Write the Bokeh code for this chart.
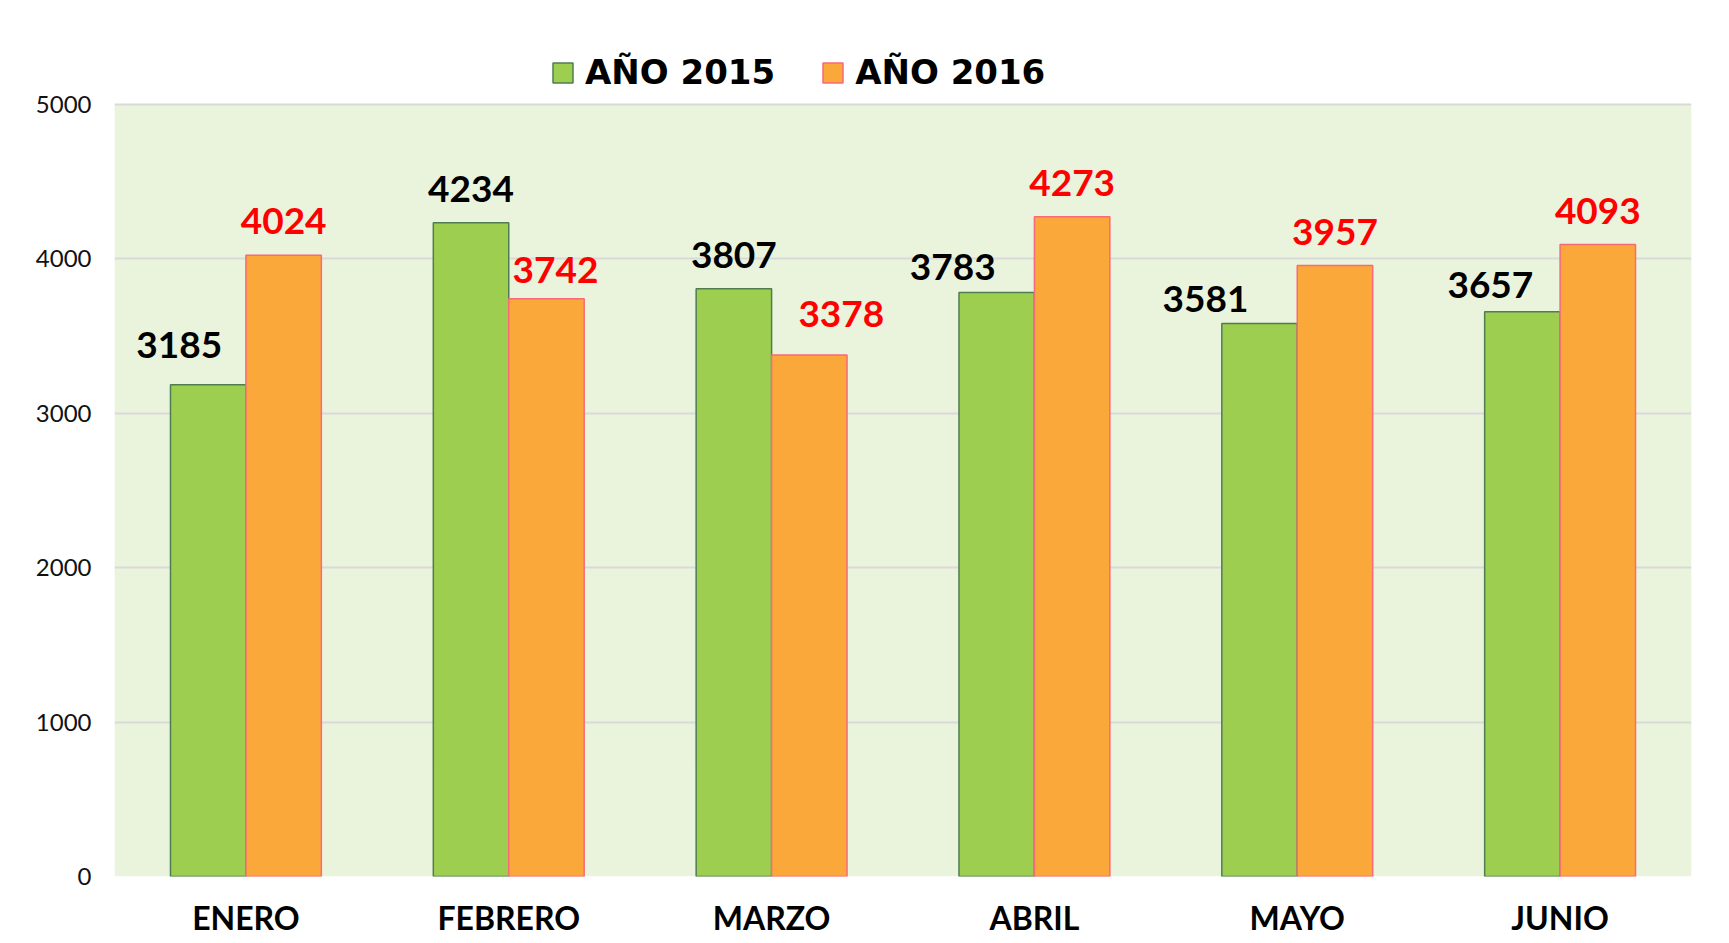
from bokeh.plotting import figure
from bokeh.models import (ColumnDataSource, FactorRange, Range1d, Legend, LegendItem,
                          FixedTicker, BoxAnnotation)
from bokeh.transform import dodge
from bokeh.core.properties import value
from bokeh.embed import file_html
from bokeh.resources import INLINE

months = ["ENERO", "FEBRERO", "MARZO", "ABRIL", "MAYO", "JUNIO"]
y2015 = [3185, 4234, 3807, 3783, 3581, 3657]
y2016 = [4024, 3742, 3378, 4273, 3957, 4093]
series = ["AÑO 2015", "AÑO 2016"]
y_ticks = [0, 1000, 2000, 3000, 4000, 5000]
Y_MAX = 5000

# label nudges in screen px (labels moved beside a taller neighbour bar)
dx15 = [-29, 0, 0, -44, -54, -32]
dy15 = [6, 0, 0, -9, -9, -7]
dx16 = [0, 9, 32, 0, 0, 0]
dy16 = [0, -5, 7, 0, 0, 0]
GAP = 34

GREEN, GREEN_LINE = "#9DCE50", "#4F7D52"
ORANGE, ORANGE_LINE = "#FBA83B", "#F8697A"
BG = "#EAF3DC"

# layout: plotting area 772px high for 0..5000, plus a white band above for the legend
AREA_H = 772
TOP_BAND = 64
FRAME_H = AREA_H + TOP_BAND

src = ColumnDataSource(dict(
    month=months, y2015=y2015, y2016=y2016,
    t15=[str(v) for v in y2015], t16=[str(v) for v in y2016],
    xo15=dx15, yo15=[-(GAP + d) for d in dy15],
    xo16=dx16, yo16=[-(GAP + d) for d in dy16],
))

p = figure(x_range=FactorRange(*months),
           y_range=Range1d(0, Y_MAX * FRAME_H / AREA_H),
           frame_width=1577, frame_height=FRAME_H,
           min_border_left=114, min_border_right=38, min_border_top=104 - TOP_BAND,
           min_border_bottom=62,
           output_backend="svg", toolbar_location=None)

p.background_fill_color = "white"
p.border_fill_color = "white"
p.outline_line_color = None
p.add_layout(BoxAnnotation(bottom=0, top=Y_MAX, fill_color=BG, fill_alpha=1,
                           line_color=None, level="image"))

W = 0.287
OFF = W / 2
r1 = p.vbar(x=dodge("month", -OFF, range=p.x_range), top="y2015", width=W, source=src,
            fill_color=GREEN, line_color=GREEN_LINE, line_width=1.5)
r2 = p.vbar(x=dodge("month", OFF, range=p.x_range), top="y2016", width=W, source=src,
            fill_color=ORANGE, line_color=ORANGE_LINE, line_width=1.5)

p.text(x=dodge("month", -OFF, range=p.x_range), y="y2015", text="t15",
       x_offset="xo15", y_offset="yo15", text_align="center", text_baseline="alphabetic",
       text_font=value("Lato"), text_font_style="bold", text_font_size="37px",
       text_color="black", source=src)
p.text(x=dodge("month", OFF, range=p.x_range), y="y2016", text="t16",
       x_offset="xo16", y_offset="yo16", text_align="center", text_baseline="alphabetic",
       text_font=value("Lato"), text_font_style="bold", text_font_size="37px",
       text_color="#FF0000", source=src)

p.xgrid.grid_line_color = None
p.ygrid.grid_line_color = "#D9D9D9"
p.ygrid.grid_line_width = 2

p.xaxis.axis_line_color = None
p.xaxis.major_tick_line_color = None
p.xaxis.minor_tick_line_color = None
p.xaxis.major_tick_out = 0
p.xaxis.major_label_text_font = "Lato"
p.xaxis.major_label_text_font_style = "bold"
p.xaxis.major_label_text_font_size = "32px"
p.xaxis.major_label_text_color = "black"
p.xaxis.major_label_standoff = 21

p.yaxis.ticker = FixedTicker(ticks=y_ticks)
p.yaxis.axis_line_color = None
p.yaxis.major_tick_line_color = None
p.yaxis.minor_tick_line_color = None
p.yaxis.major_tick_out = 0
p.yaxis.major_label_text_font = "Lato"
p.yaxis.major_label_text_font_size = "24px"
p.yaxis.major_label_text_color = "#111111"
p.yaxis.major_label_standoff = 23

legend = Legend(items=[LegendItem(label=series[0], renderers=[r1]),
                       LegendItem(label=series[1], renderers=[r2])],
                orientation="horizontal", location=(436, 784), padding=0, margin=0,
                spacing=45, glyph_width=25, glyph_height=25, label_standoff=10,
                label_text_font="DejaVu Sans", label_text_font_style="bold",
                label_text_font_size="34px", label_text_color="black",
                border_line_color=None, background_fill_alpha=0)
p.add_layout(legend)

open("out.html", "w").write(file_html(p, INLINE))
